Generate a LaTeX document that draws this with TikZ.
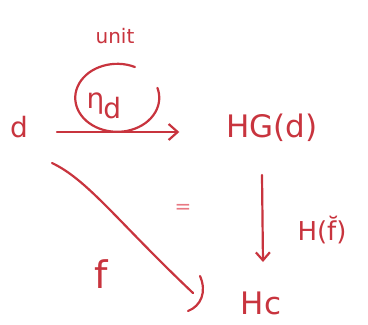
\documentclass[tikz,border=0pt]{standalone}
\usepackage{fontspec}
\setmainfont{DejaVu Sans}
\usetikzlibrary{arrows.meta}
\definecolor{ink}{RGB}{200,52,62}
\definecolor{inklight}{RGB}{232,120,130}

\begin{document}
\begin{tikzpicture}[x=1pt, y=-1pt, line width=2.2pt, line cap=round, line join=round,
  draw=ink, text=ink,
  obj/.style={inner sep=1pt, font=\fontsize{31}{36}\selectfont},
  lbl/.style={inner sep=1pt, font=\fontsize{26}{30}\selectfont},
  hand/.style={-{Straight Barb[length=9pt,width=16pt,line width=2.2pt]}}]

  %% ════ 对象 ════
  \node[obj, font=\fontsize{28}{32}\selectfont] (d) at (19,127) {d};
  \node[obj] (hgd) at (272,128) {HG(d)};
  \node[obj] (hc)  at (261,303) {Hc};

  %% ════ 标签 ════
  \node[lbl, font=\fontsize{20}{24}\selectfont] (unit) at (115,36) {unit};
  \node[lbl, font=\fontsize{28}{32}\selectfont] (eta) at (104,106)
    {η\kern-1pt\raisebox{-0.35em}{d}};
  \node[lbl, font=\fontsize{38}{42}\selectfont] (f) at (101,274) {f};
  \node[lbl] (hf) at (322,230) {H(\u{f})};
  \node[lbl, text=inklight, font=\fontsize{20}{22}\selectfont] (eq) at (183,209) {=};

  %% ════ 箭头 ════
  \draw[hand, shorten <=38pt, shorten >=45pt] ([yshift=-5pt]d.center) -- ([yshift=-4pt]hgd.west);
  \coordinate (vtop) at (262,175);
  \coordinate (vbot) at (263,262);
  \draw[hand, {Straight Barb[length=8pt,width=14pt]}-] (vbot) -- (vtop);

  %% ════ 斜线 f（手画的钩状箭头）════
  \coordinate (fs) at (52,163);
  \coordinate (fe) at (193,293);
  \draw (fs) .. controls (88,180) and (118,222) .. (fe);
  \draw (200,276) .. controls (207,292) and (201,306) .. (188,311);

  %% ════ 圈住 η_d ════
  \draw (eta.center) ++(31,-39) arc[start angle=-65, end angle=-377, x radius=42, y radius=34];

  % 钉死画布
  \pgfresetboundingbox
  \path[use as bounding box] (0,0) rectangle (368,325);
\end{tikzpicture}
\end{document}
